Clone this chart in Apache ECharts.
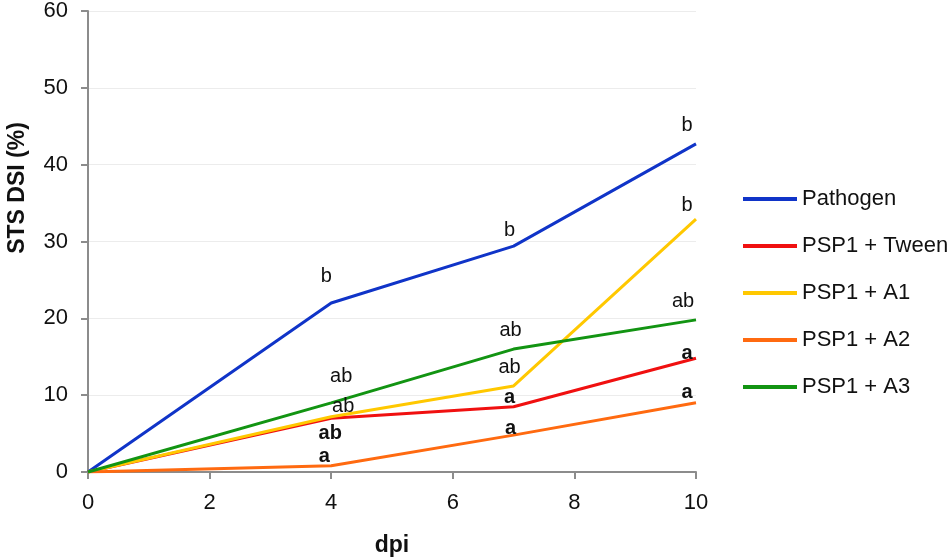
<!DOCTYPE html>
<html>
<head>
<meta charset="utf-8">
<script src="https://cdn.jsdelivr.net/npm/echarts@6/dist/echarts.min.js"></script>
<style>
  html, body { margin: 0; padding: 0; background: #fff; }
  #chart { width: 950px; height: 558px; }
</style>
</head>
<body>
<div id="chart"></div>
<script>
var days = [0, 4, 7, 10];
var seriesNames = ['Pathogen', 'PSP1 + Tween', 'PSP1 + A1', 'PSP1 + A2', 'PSP1 + A3'];

var pathogen = [0, 22.0, 29.4, 42.7];
var psp1Tween = [0, 7.0, 8.5, 14.8];
var psp1A1 = [0, 7.2, 11.2, 32.9];
var psp1A2 = [0, 0.8, 4.8, 9.0];
var psp1A3 = [0, 9.0, 16.0, 19.8];

// significance letters per point
var lettersPathogen = ['', 'b', 'b', 'b'];
var lettersTween = ['', 'ab', 'a', 'a'];
var lettersA1 = ['', 'ab', 'ab', 'b'];
var lettersA2 = ['', 'a', 'a', 'a'];
var lettersA3 = ['', 'ab', 'ab', 'ab'];

var colors = ['#1034c8', '#f01010', '#ffc800', '#ff6a10', '#129412'];

// label placement (pixels from the point)
var offsets = [
    [[0, 0], [-5, -26], [-4, -16], [-9, -18]],
    [[0, 0], [-1, 15], [-4, -9], [-9, -5]],
    [[0, 0], [12, -10], [-4, -18], [-9, -14]],
    [[0, 0], [-7, -9], [-3, -7], [-9, -10]],
    [[0, 0], [10, -26], [-3, -19], [-13, -18]]
];
var boldLabels = [false, true, false, true, false];

var allValues = [pathogen, psp1Tween, psp1A1, psp1A2, psp1A3];
var allLetters = [lettersPathogen, lettersTween, lettersA1, lettersA2, lettersA3];
var FONT = 'Liberation Sans, Arial, sans-serif';

function buildSeries(i) {
    var data = days.map(function(d, j) {
        return {
            value: [d, allValues[i][j]],
            label: {
                show: allLetters[i][j] !== '',
                formatter: allLetters[i][j],
                offset: offsets[i][j]
            }
        };
    });
    return {
        name: seriesNames[i],
        type: 'line',
        data: data,
        symbol: 'circle',
        symbolSize: 0,
        lineStyle: { color: colors[i], width: 3 },
        itemStyle: { color: colors[i] },
        label: {
            show: true,
            position: 'inside',
            align: 'center',
            verticalAlign: 'middle',
            color: '#111',
            fontFamily: FONT,
            fontSize: 20,
            fontWeight: boldLabels[i] ? 'bold' : 'normal'
        },
        emphasis: { disabled: true },
        animation: false
    };
}

var chart = echarts.init(document.getElementById('chart'));
chart.setOption({
    backgroundColor: '#fff',
    color: colors,
    grid: { left: 88, right: 254, top: 11, bottom: 86, outerBoundsMode: 'none', containLabel: false },
    legend: {
        orient: 'vertical',
        left: 738,
        top: 183,
        icon: 'rect',
        itemWidth: 54,
        itemHeight: 4,
        itemGap: 25,
        textStyle: { color: '#111', fontSize: 22, fontFamily: FONT },
        data: seriesNames
    },
    xAxis: {
        type: 'value',
        min: 0,
        max: 10,
        interval: 2,
        name: 'dpi',
        nameLocation: 'middle',
        nameGap: 62,
        nameTextStyle: { color: '#111', fontSize: 23, fontWeight: 'bold', fontFamily: FONT },
        axisLine: { lineStyle: { color: '#8c8c8c', width: 2 } },
        axisTick: { show: true, length: 7, lineStyle: { color: '#8c8c8c', width: 2 } },
        axisLabel: { color: '#111', fontSize: 22, margin: 20, fontFamily: FONT },
        splitLine: { show: false }
    },
    yAxis: {
        type: 'value',
        min: 0,
        max: 60,
        interval: 10,
        axisLine: { show: true, lineStyle: { color: '#8c8c8c', width: 2 } },
        axisTick: { show: true, length: 7, lineStyle: { color: '#8c8c8c', width: 2 } },
        axisLabel: { color: '#111', fontSize: 22, margin: 20, fontFamily: FONT },
        splitLine: { show: true, lineStyle: { color: '#ececec', width: 1 } }
    },
    graphic: [{
        type: 'text',
        x: 18,
        y: 188,
        rotation: Math.PI / 2,
        style: {
            text: 'STS DSI (%)',
            fill: '#111',
            font: 'bold 23px "Liberation Sans", Arial, sans-serif',
            align: 'center',
            verticalAlign: 'middle'
        }
    }],
    series: [0, 1, 2, 3, 4].map(buildSeries)
});
</script>
</body>
</html>
